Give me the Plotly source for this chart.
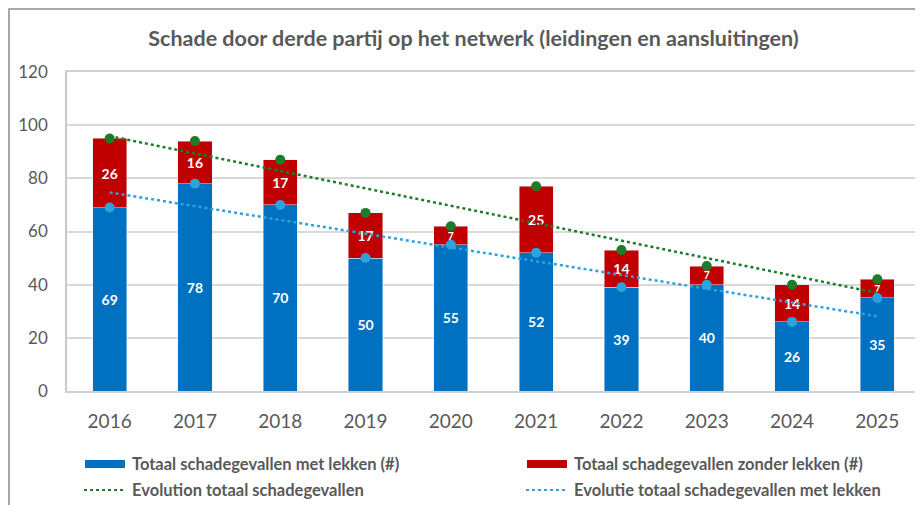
import plotly.graph_objects as go

years = ["2016", "2017", "2018", "2019", "2020", "2021", "2022", "2023", "2024", "2025"]
met_lekken = [69, 78, 70, 50, 55, 52, 39, 40, 26, 35]
zonder_lekken = [26, 16, 17, 17, 7, 25, 14, 7, 14, 7]
totaal = [95, 94, 87, 67, 62, 77, 53, 47, 40, 42]
trend_years = ["2016", "2025"]
trend_totaal = [95.9, 36.9]
trend_met = [74.7, 28.1]

BLUE = "#0070C0"
RED = "#C00000"
GREEN = "#1E7B2A"
LBLUE = "#2BA3DC"
GREY = "#595959"
FONT = "Lato"

# the page body adds an 8px offset; coordinates below are screen px minus 8
OFF = 8
W, H = 923 - OFF, 505 - OFF
L, R, T, B = 67 - OFF, 920 - OFF, 72 - OFF, 391 - OFF


def px(x):
    return (x - OFF - L) / (R - L)


def py(y):
    return (B - (y - OFF)) / (B - T)


fig = go.Figure()
fig.add_trace(go.Bar(x=years, y=met_lekken, marker_color=BLUE, name="Totaal schadegevallen met lekken (#)",
                     text=met_lekken, textposition="inside", insidetextanchor="middle", textangle=0,
                     textfont=dict(color="white", size=14, family=FONT, weight="bold"), showlegend=False))
fig.add_trace(go.Bar(x=years, y=zonder_lekken, marker_color=RED, name="Totaal schadegevallen zonder lekken (#)",
                     text=zonder_lekken, textposition="inside", insidetextanchor="middle", textangle=0,
                     textfont=dict(color="white", size=14, family=FONT, weight="bold"), showlegend=False))
fig.add_trace(go.Scatter(x=trend_years, y=trend_totaal, mode="lines", line=dict(color=GREEN, width=2.5, dash="dot"),
                         name="Evolution totaal schadegevallen", showlegend=False))
fig.add_trace(go.Scatter(x=trend_years, y=trend_met, mode="lines", line=dict(color=LBLUE, width=2.5, dash="dot"),
                         name="Evolutie totaal schadegevallen met lekken", showlegend=False))
fig.add_trace(go.Scatter(x=years, y=totaal, mode="markers", marker=dict(color=GREEN, size=10),
                         showlegend=False, hoverinfo="skip"))
fig.add_trace(go.Scatter(x=years, y=met_lekken, mode="markers", marker=dict(color=LBLUE, size=10),
                         showlegend=False, hoverinfo="skip"))

shapes = [
    # outer chart frame
    dict(type="rect", xref="paper", yref="paper", x0=px(9), x1=px(960), y0=py(9), y1=py(560),
         line=dict(color="#8C8C8C", width=1.5), fillcolor="rgba(0,0,0,0)", layer="below"),
    # legend swatches
    dict(type="rect", xref="paper", yref="paper", x0=px(85), x1=px(125), y0=py(468), y1=py(460),
         line=dict(width=0), fillcolor=BLUE),
    dict(type="rect", xref="paper", yref="paper", x0=px(527), x1=px(567), y0=py(468), y1=py(460),
         line=dict(width=0), fillcolor=RED),
    dict(type="line", xref="paper", yref="paper", x0=px(84), x1=px(123), y0=py(490), y1=py(490),
         line=dict(color=GREEN, width=2, dash="dot")),
    dict(type="line", xref="paper", yref="paper", x0=px(526), x1=px(566), y0=py(490), y1=py(490),
         line=dict(color=LBLUE, width=2, dash="dot")),
]

legend_items = [
    ("Totaal schadegevallen met lekken (#)", 130, 464),
    ("Totaal schadegevallen zonder lekken (#)", 572, 464),
    ("Evolution totaal schadegevallen", 130, 490),
    ("Evolutie totaal schadegevallen met lekken", 572, 490),
]
annotations = [
    dict(text=t, xref="paper", yref="paper", x=px(x), y=py(y), xanchor="left", yanchor="middle",
         showarrow=False, font=dict(family=FONT, size=16.5, color=GREY, weight="bold"))
    for t, x, y in legend_items
]

fig.update_layout(
    width=W, height=H,
    margin=dict(l=L, r=W - R, t=T, b=H - B),
    barmode="stack", bargap=0.6,
    plot_bgcolor="white", paper_bgcolor="white",
    title=dict(text="Schade door derde partij op het netwerk (leidingen en aansluitingen)",
               x=(473.5 - OFF) / W, xanchor="center", y=1 - (38 - OFF) / H, yanchor="middle",
               font=dict(family=FONT, size=21.5, color=GREY, weight="bold")),
    font=dict(family=FONT, color=GREY),
    showlegend=False,
    shapes=shapes, annotations=annotations,
    uniformtext=dict(mode=False),
)
fig.update_xaxes(type="category", showline=True, linecolor="#D0D0D0", linewidth=1.5, mirror=True,
                 automargin=False, range=[-0.5, 9.5],
                 tickfont=dict(size=19, color=GREY, family=FONT), ticklabelstandoff=12, ticks="")
fig.update_yaxes(range=[0, 120], dtick=20, showgrid=True, gridcolor="#D9D9D9", gridwidth=1.5,
                 showline=True, linecolor="#C8C8C8", linewidth=1.5, mirror=True, zeroline=False,
                 automargin=False,
                 tickfont=dict(size=17, color=GREY, family=FONT), ticklabelstandoff=14, ticks="")

fig.write_html("out.html")
